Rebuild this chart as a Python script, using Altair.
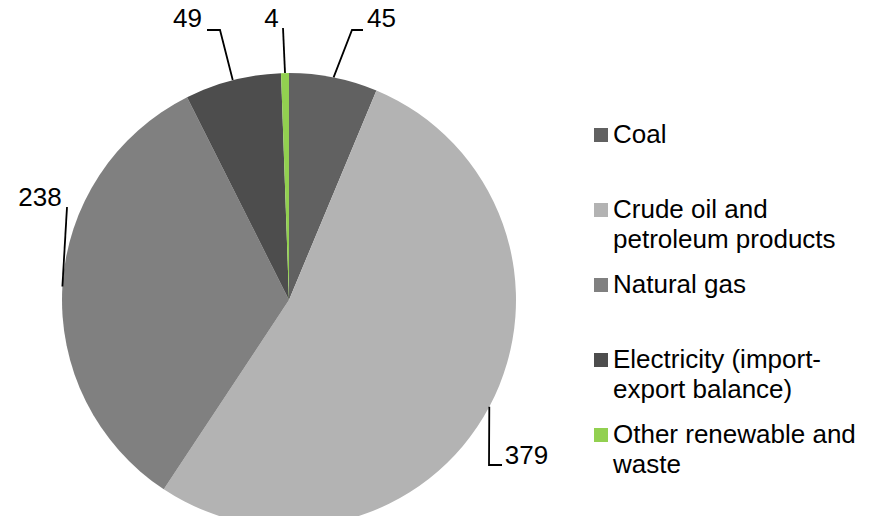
import math
import altair as alt
import pandas as pd

# ---------------- data ----------------
categories = [
    "Coal",
    "Crude oil and petroleum products",
    "Natural gas",
    "Electricity (import-export balance)",
    "Other renewable and waste",
]
legend_lines = [
    ["Coal"],
    ["Crude oil and", "petroleum products"],
    ["Natural gas"],
    ["Electricity (import-", "export balance)"],
    ["Other renewable and", "waste"],
]
values = [45, 379, 238, 49, 4]
colors = ["#616161", "#b3b3b3", "#808080", "#4d4d4d", "#92d050"]

# ---------------- layout (pixels inside the chart) ----------------
W, H = 863, 508
CX, CY, R = 281, 292, 227
FONT = "Liberation Sans"
FS = 26
# value-label centres, in category order
LABEL_X = [373.5, 518.5, 32, 179.5, 263.5]
LABEL_Y = [11, 448, 189.5, 11, 11]
# leader line points after the slice-edge point, in category order
LEADER_PTS = [
    [(344, 22), (355, 22)],
    [(481, 457), (494, 457)],
    [(59, 199)],
    [(212, 22), (199, 22)],
    [(275, 20)],
]
LEG_SYM_X, LEG_TXT_X, LEG_Y0, LEG_STEP, LEG_LINE = 593, 605, 127, 75, 30

# ---------------- tables ----------------
pie_df = pd.DataFrame({"cat": categories, "value": values, "idx": range(len(values))})

total = sum(values)
lead_rows = []
cum = 0
for i, (c, v) in enumerate(zip(categories, values)):
    mid = (cum + v / 2) / total * 2 * math.pi
    cum += v
    ex = CX + R * math.sin(mid)
    ey = CY - R * math.cos(mid)
    pts = [(ex, ey)] + LEADER_PTS[i]
    for k, (px, py) in enumerate(pts):
        lead_rows.append({"cat": c, "k": k, "x": px, "y": py})
lead_df = pd.DataFrame(lead_rows)

label_df = pd.DataFrame(
    {"cat": categories, "txt": [str(v) for v in values], "x": LABEL_X, "y": LABEL_Y}
)

leg_sym_rows, leg_txt_rows = [], []
for i, (c, lines) in enumerate(zip(categories, legend_lines)):
    yc = LEG_Y0 + i * LEG_STEP
    leg_sym_rows.append({"cat": c, "x": LEG_SYM_X, "y": yc})
    for j, ln in enumerate(lines):
        leg_txt_rows.append({"txt": ln, "x": LEG_TXT_X, "y": yc + j * LEG_LINE})
leg_sym_df = pd.DataFrame(leg_sym_rows)
leg_txt_df = pd.DataFrame(leg_txt_rows)

color_scale = alt.Scale(domain=categories, range=colors)

pie = (
    alt.Chart(pie_df)
    .mark_arc(radius=R, strokeWidth=0)
    .encode(
        theta=alt.Theta("value:Q", stack=True),
        order=alt.Order("idx:Q"),
        color=alt.Color("cat:N", scale=color_scale, legend=None),
        x=alt.value(CX),
        y=alt.value(CY),
    )
)

leaders = (
    alt.Chart(lead_df)
    .mark_line(color="black", strokeWidth=1.8)
    .encode(
        x=alt.X("x:Q", scale=None, axis=None),
        y=alt.Y("y:Q", scale=None, axis=None),
        detail="cat:N",
        order="k:Q",
    )
)

labels = (
    alt.Chart(label_df)
    .mark_text(font=FONT, fontSize=FS, align="center", baseline="middle", color="black")
    .encode(
        x=alt.X("x:Q", scale=None, axis=None),
        y=alt.Y("y:Q", scale=None, axis=None),
        text="txt:N",
    )
)

leg_sym = (
    alt.Chart(leg_sym_df)
    .mark_point(shape="square", size=196, filled=True, opacity=1)
    .encode(
        x=alt.X("x:Q", scale=None, axis=None),
        y=alt.Y("y:Q", scale=None, axis=None),
        color=alt.Color("cat:N", scale=color_scale, legend=None),
    )
)

leg_txt = (
    alt.Chart(leg_txt_df)
    .mark_text(font=FONT, fontSize=FS, align="left", baseline="middle", color="black")
    .encode(
        x=alt.X("x:Q", scale=None, axis=None),
        y=alt.Y("y:Q", scale=None, axis=None),
        text="txt:N",
    )
)

chart = (
    alt.layer(pie, leaders, labels, leg_sym, leg_txt)
    .properties(
        width=W,
        height=H,
        padding=0,
        autosize=alt.AutoSizeParams(type="none"),
        background="white",
    )
    .configure_view(stroke=None)
)

chart.save("out.html", embed_options={"renderer": "svg", "actions": False})
